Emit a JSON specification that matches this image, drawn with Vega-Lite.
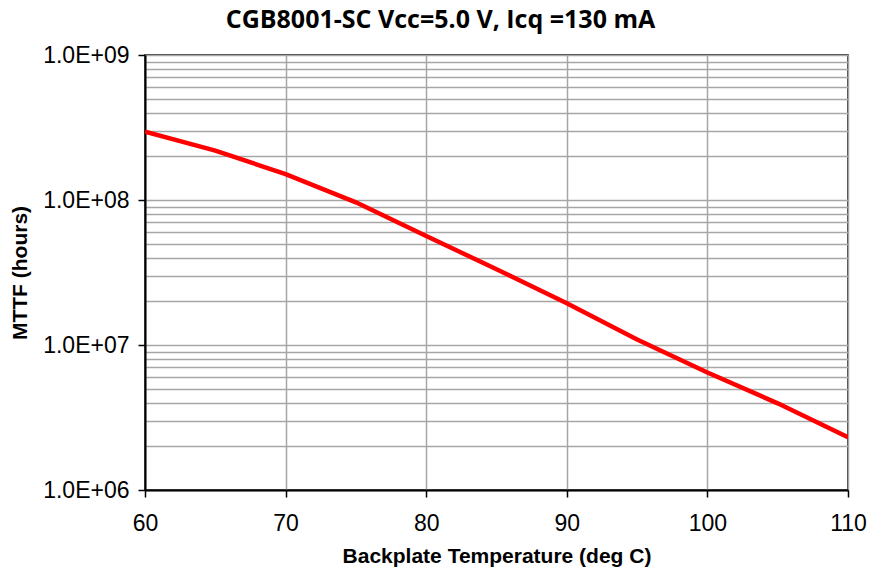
{
  "$schema": "https://vega.github.io/schema/vega-lite/v6.json",
  "autosize": {"type": "none"},
  "width": 703,
  "height": 435,
  "padding": {"left": 145, "top": 55, "right": 22, "bottom": 79},
  "background": "white",
  "title": {
    "text": "CGB8001-SC Vcc=5.0 V, Icq =130 mA",
    "font": "Open Sans",
    "fontWeight": "bold",
    "fontSize": 25,
    "color": "black",
    "anchor": "middle",
    "dx": -56,
    "offset": 11
  },
  "config": {
    "view": {"stroke": "black", "strokeWidth": 1.5},
    "axis": {
      "labelFont": "Liberation Sans",
      "titleFont": "Liberation Sans",
      "labelColor": "black",
      "titleColor": "black",
      "domainColor": "black",
      "domainWidth": 2,
      "tickColor": "black",
      "tickWidth": 1.5,
      "gridColor": "#a6a6a6",
      "gridWidth": 1.5,
      "gridOpacity": 1
    }
  },
  "data": {
    "values": [
      {"temp": 60, "mttf": 2.96e8},
      {"temp": 65, "mttf": 2.19e8},
      {"temp": 70, "mttf": 1.51e8},
      {"temp": 75, "mttf": 9.64e7},
      {"temp": 80, "mttf": 5.65e7},
      {"temp": 85, "mttf": 3.33e7},
      {"temp": 90, "mttf": 1.94e7},
      {"temp": 95, "mttf": 1.09e7},
      {"temp": 100, "mttf": 6.46e6},
      {"temp": 105, "mttf": 3.96e6},
      {"temp": 110, "mttf": 2.31e6}
    ]
  },
  "mark": {"type": "line", "color": "#ff0000", "strokeWidth": 4.5, "interpolate": "linear", "clip": true},
  "encoding": {
    "x": {
      "field": "temp",
      "type": "quantitative",
      "scale": {"domain": [60, 110], "nice": false, "zero": false},
      "axis": {
        "values": [60, 70, 80, 90, 100, 110],
        "title": "Backplate Temperature (deg C)",
        "titleFontSize": 21,
        "titleFontWeight": "bold",
        "titlePadding": 10,
        "labelFontSize": 23,
        "labelPadding": 15,
        "tickSize": 7,
        "labelFlush": false,
        "grid": true
      }
    },
    "y": {
      "field": "mttf",
      "type": "quantitative",
      "scale": {"type": "log", "domain": [1e6, 1e9], "nice": false},
      "axis": {
        "values": [1e6, 2e6, 3e6, 4e6, 5e6, 6e6, 7e6, 8e6, 9e6, 1e7, 2e7, 3e7, 4e7, 5e7, 6e7, 7e7, 8e7, 9e7, 1e8, 2e8, 3e8, 4e8, 5e8, 6e8, 7e8, 8e8, 9e8, 1e9],
        "labelExpr": "abs(log(datum.value)/LN10 - round(log(datum.value)/LN10)) < 0.001 ? '1.0E+0' + round(log(datum.value)/LN10) : ''",
        "tickOpacity": {"condition": {"test": "abs(log(datum.value)/LN10 - round(log(datum.value)/LN10)) < 0.001", "value": 1}, "value": 0},
        "title": "MTTF (hours)",
        "titleFontSize": 21,
        "titleFontWeight": "bold",
        "titlePadding": 12,
        "labelFontSize": 23,
        "labelPadding": 9,
        "tickSize": 7,
        "labelFlush": false,
        "labelOverlap": false,
        "grid": true
      }
    }
  }
}
